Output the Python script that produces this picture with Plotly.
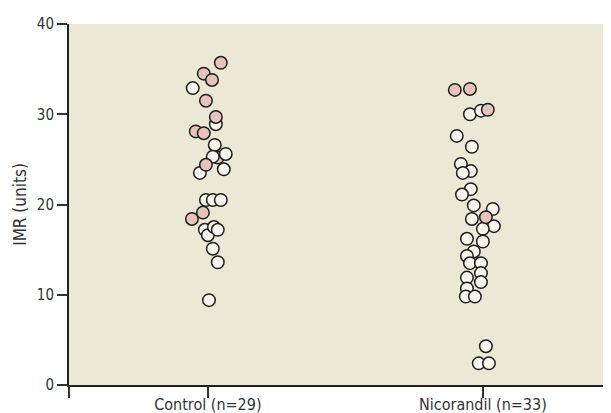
import plotly.graph_objects as go

# ---- data ----
categories = ["Control (n=29)", "Nicorandil (n=33)"]

# Control group: values and horizontal jitter (category units)
control_white_vals = [32.9, 28.9, 26.6, 25.6, 25.3, 23.5, 23.9, 20.5, 20.5, 20.5,
                      17.2, 16.6, 17.5, 17.2, 15.1, 13.6, 9.4]
control_white_jit = [-0.055, 0.029, 0.025, 0.065, 0.018, -0.029, 0.058, -0.007, 0.018, 0.047,
                     -0.011, 0.0, 0.022, 0.036, 0.018, 0.036, 0.004]
control_pink_vals = [35.7, 34.5, 33.8, 31.5, 29.7, 28.1, 27.9, 24.4, 19.1, 18.4]
control_pink_jit = [0.047, -0.015, 0.015, -0.007, 0.029, -0.044, -0.015, -0.007, -0.018, -0.058]
# pink point partly hidden behind white ones
control_pink_back_vals = [25.2]
control_pink_back_jit = [0.036]

# Nicorandil group
nico_white_vals = [30.0, 30.4, 27.6, 26.4, 24.5, 23.7, 23.5, 21.7, 21.1, 19.9, 19.5, 18.4,
                   17.6, 17.3, 16.2, 15.9, 14.8, 14.3, 13.5, 13.5, 12.4, 11.9, 11.4, 10.7,
                   9.8, 9.8, 4.3, 2.4, 2.4]
nico_white_jit = [-0.047, -0.007, -0.095, -0.04, -0.08, -0.044, -0.073, -0.044, -0.076, -0.033,
                  0.036, -0.04, 0.04, 0.0, -0.058, 0.0, -0.033, -0.058, -0.047, -0.007,
                  -0.007, -0.058, -0.007, -0.058, -0.062, -0.029, 0.011, -0.015, 0.022]
nico_pink_vals = [32.7, 32.8, 30.5, 18.6]
nico_pink_jit = [-0.102, -0.047, 0.018, 0.011]

y_ticks = [0, 10, 20, 30, 40]

# ---- styles ----
WHITE = "#F8F6EC"
PINK = "#E7C3BB"
EDGE = "#1E1E1E"
BG = "#EBE8D5"
FONT = "Liberation Sans Narrow, DejaVu Sans Condensed, Roboto, sans-serif"


def xs(idx, jit):
    return [idx + j for j in jit]


fig = go.Figure()
marker_common = dict(size=12.5, line=dict(color=EDGE, width=1.5))

fig.add_trace(go.Scatter(x=xs(0, control_pink_back_jit), y=control_pink_back_vals, mode="markers",
                         marker=dict(color=PINK, **marker_common), showlegend=False))
fig.add_trace(go.Scatter(x=xs(0, control_white_jit), y=control_white_vals, mode="markers",
                         marker=dict(color=WHITE, **marker_common), showlegend=False))
fig.add_trace(go.Scatter(x=xs(1, nico_white_jit), y=nico_white_vals, mode="markers",
                         marker=dict(color=WHITE, **marker_common), showlegend=False))
fig.add_trace(go.Scatter(x=xs(0, control_pink_jit), y=control_pink_vals, mode="markers",
                         marker=dict(color=PINK, **marker_common), showlegend=False))
fig.add_trace(go.Scatter(x=xs(1, nico_pink_jit), y=nico_pink_vals, mode="markers",
                         marker=dict(color=PINK, **marker_common), showlegend=False))

x_lo, x_hi = -0.505, 1.495
fig.update_layout(
    width=611, height=413,
    margin=dict(l=61, r=0, t=16, b=36),
    paper_bgcolor="white",
    plot_bgcolor=BG,
    font=dict(family=FONT, size=14, color="#333333"),
    xaxis=dict(
        range=[x_lo, x_hi],
        tickvals=[x_lo, 0, 1],
        ticktext=["", categories[0], categories[1]],
        ticks="outside", ticklen=11, tickwidth=1.5, tickcolor="#333333",
        ticklabelstandoff=-7,
        showline=True, linecolor="#222222", linewidth=2,
        showgrid=False, zeroline=False,
        tickfont=dict(family=FONT, size=16, color="#333333"),
    ),
    yaxis=dict(
        range=[0, 40],
        tickvals=y_ticks,
        ticks="outside", ticklen=10, tickwidth=1.5, tickcolor="#333333",
        showline=True, linecolor="#222222", linewidth=2,
        showgrid=False, zeroline=False,
        tickfont=dict(family=FONT, size=15, color="#333333"),
        title=dict(text="IMR (units)", font=dict(family=FONT, size=17, color="#333333"), standoff=6),
    ),
)

fig.write_html("out.html")
